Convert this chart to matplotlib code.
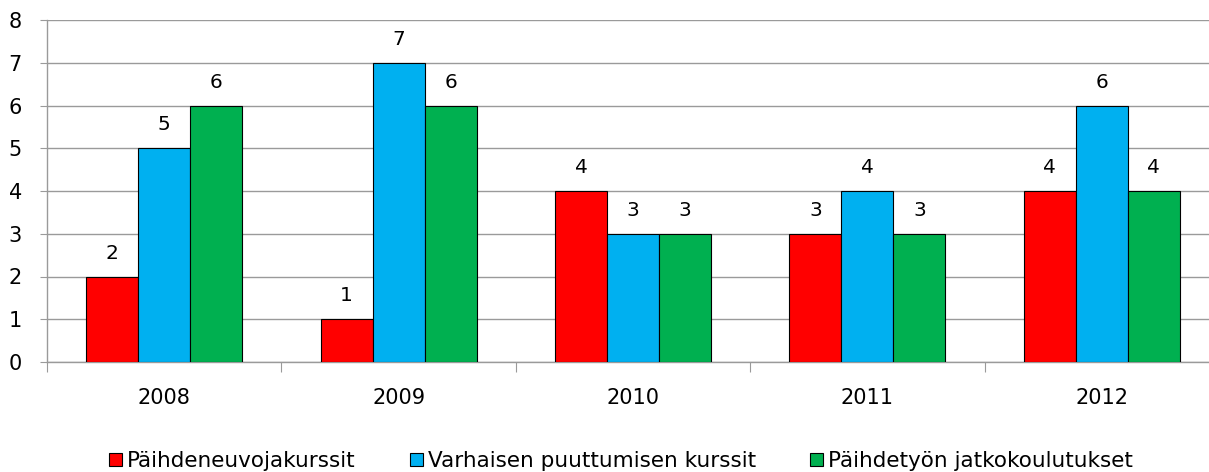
import numpy as np
import matplotlib.pyplot as plt

# Kurssit vuosittain
vuodet = ["2008", "2009", "2010", "2011", "2012"]
paihdeneuvoja = [2, 1, 4, 3, 4]
varhainen = [5, 7, 3, 4, 6]
jatkokoulutus = [6, 6, 3, 3, 4]

sarjat = [
    ("Päihdeneuvojakurssit", paihdeneuvoja, "#FF0000"),
    ("Varhaisen puuttumisen kurssit", varhainen, "#00B0F0"),
    ("Päihdetyön jatkokoulutukset", jatkokoulutus, "#00B050"),
]

plt.rcParams["font.family"] = "DejaVu Sans"

fig = plt.figure(figsize=(12.09, 4.72), dpi=100)
ax = fig.add_axes([47 / 1209, 110 / 472, 1172 / 1209, 342 / 472])

x = np.arange(len(vuodet)) + 0.5
leveys = 0.222

for i, (nimi, arvot, vari) in enumerate(sarjat):
    pos = x + (i - 1) * leveys
    ax.bar(pos, arvot, width=leveys, color=vari, edgecolor="black",
           linewidth=0.8, label=nimi, zorder=3)
    for px, v in zip(pos, arvot):
        ax.annotate(str(v), (px, v), xytext=(0, 10), textcoords="offset points",
                    ha="center", va="bottom", fontsize=14.5)

ax.set_xlim(0, len(vuodet))
ax.set_ylim(0, 8)
ax.set_yticks(range(0, 9))
ax.yaxis.grid(True, color="#9a9a9a", linewidth=1, zorder=0)

# rajatikit luokkien väliin, nimet keskelle
ax.set_xticks(range(0, len(vuodet) + 1))
ax.set_xticklabels([])
ax.set_xticks(x, minor=True)
ax.set_xticklabels(vuodet, minor=True)
ax.tick_params(axis="x", which="major", length=7, color="#9a9a9a", direction="out")
ax.tick_params(axis="x", which="minor", length=0, pad=18.5, labelsize=15)
ax.tick_params(axis="y", length=5, color="#9a9a9a", labelsize=15, pad=13)

for s in ["top", "right"]:
    ax.spines[s].set_visible(False)
for s in ["left", "bottom"]:
    ax.spines[s].set_color("#9a9a9a")
    ax.spines[s].set_linewidth(1)

fig.legend(loc="center", bbox_to_anchor=(621 / 1209, 1 - 461 / 472), ncol=3,
           frameon=False, fontsize=15.5, handlelength=0.6, handleheight=0.6,
           handletextpad=0.25, columnspacing=2.5)

fig.savefig("out.png", dpi=100)
